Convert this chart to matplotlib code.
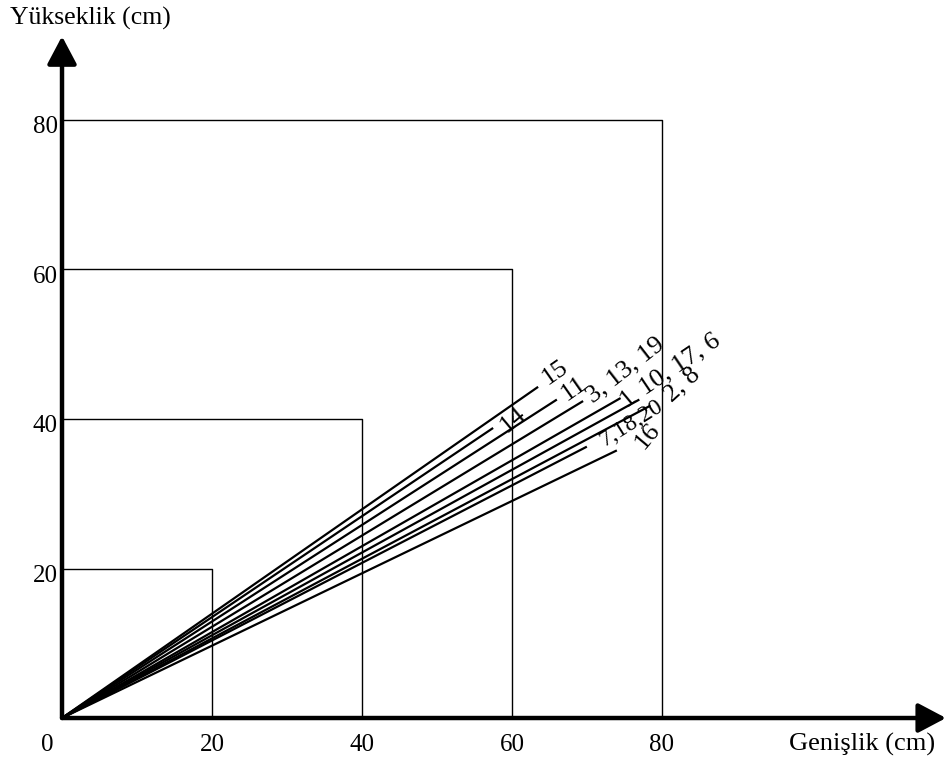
import matplotlib.pyplot as plt

plt.rcParams['font.family'] = ['Liberation Serif', 'DejaVu Serif']

# square frames (side length, cm)
boxes = [20, 40, 60, 80]
tick_vals = [0, 20, 40, 60, 80]

# ratio lines: end point (width, height) in cm and their sample numbers
line_labels = ['15', '14', '11', '3, 13, 19', '1', '10, 17, 6', '2, 8', '7,18,20', '16']
end_w = [63.5, 57.5, 66.0, 69.5, 74.5, 77.0, 78.5, 70.0, 74.0]
end_h = [44.3, 38.8, 42.6, 42.4, 42.8, 42.6, 41.8, 36.3, 35.8]

# label placement (pixels offset from line end, rotation, size)
lab_off = [(10, 2), (14, -5), (10, -1), (10, -2), (6, -9), (6, 5), (21, 3), (18, 0), (27, 0)]
lab_rot = [35, 40, 35, 38, 40, 34, 42, 32, 50]
lab_size = [19, 19, 19, 19, 19, 19, 19, 17, 19]

fig = plt.figure(figsize=(9.46, 7.61), dpi=100)
ax = fig.add_axes([0, 0, 1, 1])
ax.set_xlim(-8.27, 117.9)
ax.set_ylim(-5.75, 96.05)
ax.axis('off')

for b in boxes:
    ax.plot([0, b, b], [b, b, 0], color='black', lw=1.0)

for w, h, lab, off, rot, fs in zip(end_w, end_h, line_labels, lab_off, lab_rot, lab_size):
    ax.plot([0, w], [0, h], color='black', lw=1.6, solid_capstyle='butt')
    ax.annotate(lab, (w, h), xytext=off, textcoords='offset pixels',
                rotation=rot, rotation_mode='anchor', ha='left', va='baseline',
                fontsize=fs)

# axes with arrows
head = '-|>,head_length=1.7,head_width=0.9'
ax.annotate('', xy=(0, 91.2), xytext=(0, 0),
            arrowprops=dict(arrowstyle=head, color='black', lw=3.2, shrinkA=0, shrinkB=0))
ax.annotate('', xy=(117.9, 0), xytext=(0, 0),
            arrowprops=dict(arrowstyle=head, color='black', lw=3.2, shrinkA=0, shrinkB=0))

for t in tick_vals:
    ax.text(t - 2.0 if t == 0 else t, -3.6, str(t), ha='center', va='center', fontsize=18)
    if t > 0:
        ax.text(-0.6, t - 1.0, str(t), ha='right', va='center', fontsize=18)

ax.text(-6.9, 93.6, 'Yükseklik (cm)', ha='left', va='center', fontsize=18.5)
ax.text(116.4, -3.6, 'Genişlik (cm)', ha='right', va='center', fontsize=19)

fig.savefig('out.png', dpi=100)
